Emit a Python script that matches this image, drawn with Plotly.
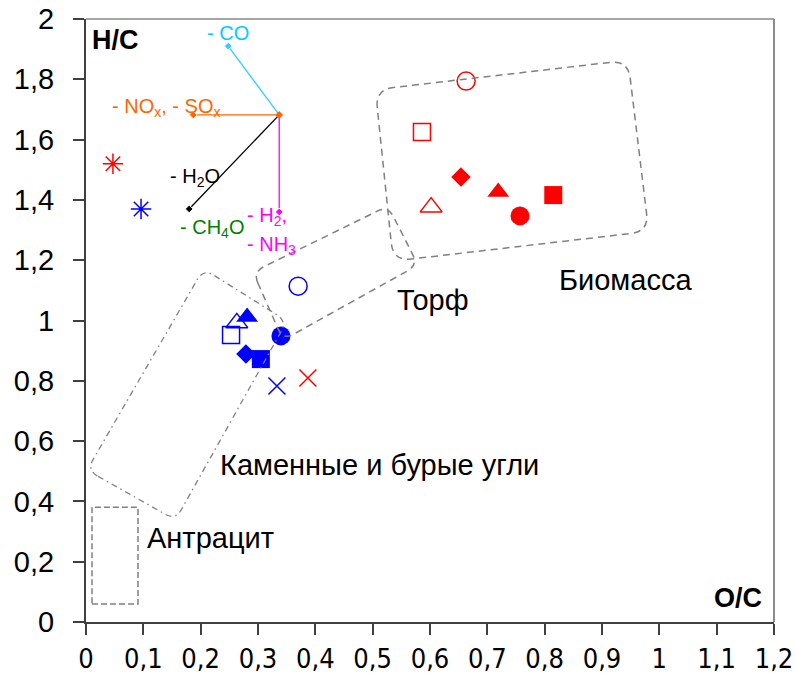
import numpy as np
import plotly.graph_objects as go

# ---- sample points: O/C and H/C atomic ratios ----
symbols = ["circle-open", "square-open", "diamond", "triangle-up", "square",
           "triangle-up-open", "circle", "asterisk-open", "x-thin-open"]
red_oc = [0.663, 0.586, 0.654, 0.719, 0.815, 0.602, 0.757, 0.047, 0.387]
red_hc = [1.794, 1.625, 1.476, 1.426, 1.416, 1.376, 1.347, 1.520, 0.809]
blue_oc = [0.370, 0.253, 0.279, 0.281, 0.305, 0.263, 0.340, 0.096, 0.333]
blue_hc = [1.114, 0.952, 0.889, 1.012, 0.872, 0.992, 0.949, 1.370, 0.783]

# ---- reaction vectors from a common origin ----
vec_origin = (0.337, 1.682)
vec_end_oc = [0.248, 0.187, 0.180, 0.337]
vec_end_hc = [1.910, 1.682, 1.370, 1.360]

# vector labels: text, O/C, H/C of the label's left edge
vec_labels = ["- CO", "- NO<sub>x</sub>, - SO<sub>x</sub>", "- H<sub>2</sub>O",
              "- CH<sub>4</sub>O", "- H<sub>2</sub>,", "- NH<sub>3</sub>"]
vec_label_oc = [0.2076, 0.042, 0.143, 0.160, 0.277, 0.277]
vec_label_hc = [1.953, 1.706, 1.474, 1.305, 1.345, 1.248]

# ---- fuel regions (corner points, O/C and H/C) ----
biomass_oc = [0.5048, 0.9454, 0.9815, 0.5357]
biomass_hc = [1.766, 1.863, 1.2955, 1.197]
peat_oc = [0.2913, 0.5268, 0.5791, 0.3436]
peat_hc = [1.161, 1.380, 1.184, 0.935]
coal_oc = [0.0017, 0.205, 0.3506, 0.1561]
coal_hc = [0.504, 1.1715, 0.998, 0.338]
anthracite_oc = [0.0105, 0.0907]
anthracite_hc = [0.0597, 0.381]

region_names = ["Биомасса", "Торф", "Каменные и бурые угли", "Антрацит"]
region_label_oc = [0.8215, 0.539, 0.230, 0.103]
region_label_hc = [1.134, 1.068, 0.521, 0.279]

x_ticks = [0, 0.1, 0.2, 0.3, 0.4, 0.5, 0.6, 0.7, 0.8, 0.9, 1.0, 1.1, 1.2]
x_ticktext = ["0", "0,1", "0,2", "0,3", "0,4", "0,5", "0,6", "0,7", "0,8",
              "0,9", "1", "1,1", "1,2"]
y_ticks = [0, 0.2, 0.4, 0.6, 0.8, 1.0, 1.2, 1.4, 1.6, 1.8, 2.0]
y_ticktext = ["0", "0,2", "0,4", "0,6", "0,8", "1", "1,2", "1,4", "1,6",
              "1,8", "2"]

# ---- layout geometry and styles ----
W, H = 796, 675
M_L, M_R, M_T, M_B = 86, 22, 19, 53
X_RANGE = (0.0, 1.2)
Y_RANGE = (0.0, 2.0)
PLOT_W = W - M_L - M_R
PLOT_H = H - M_T - M_B
FONT = "Liberation Sans, Arial, sans-serif"

marker_sizes = {"circle-open": 18, "square-open": 17, "diamond": 15,
                "triangle-up": 19, "square": 18, "triangle-up-open": 19,
                "circle": 19, "asterisk-open": 17, "x-thin-open": 17}
vec_colors = ["#33CCFF", "#FF6600", "#000000", "#FF00FF"]
label_colors = ["#00CCFF", "#FF6600", "#000000", "#008000", "#FF00FF", "#FF00FF"]
GREY = "#808080"


def rounded_path(xs, ys, r_px):
    """Closed outline through the given corners with rounded corners (radius in px)."""
    sx = PLOT_W / (X_RANGE[1] - X_RANGE[0])
    sy = PLOT_H / (Y_RANGE[1] - Y_RANGE[0])
    P = np.column_stack([np.asarray(xs) * sx, np.asarray(ys) * sy])
    n = len(P)

    def fmt(pt):
        return f"{pt[0] / sx:.5f},{pt[1] / sy:.5f}"

    path = ""
    for i in range(n):
        c, p, q = P[i], P[i - 1], P[(i + 1) % n]
        a = c + (p - c) / np.linalg.norm(p - c) * r_px
        b = c + (q - c) / np.linalg.norm(q - c) * r_px
        path += ("M " if i == 0 else " L ") + fmt(a)
        path += " Q " + fmt(c) + " " + fmt(b)
    return path + " Z"


fig = go.Figure()

# reaction vectors
for ex, ey, col in zip(vec_end_oc, vec_end_hc, vec_colors):
    fig.add_trace(go.Scatter(
        x=[vec_origin[0], ex], y=[vec_origin[1], ey], mode="lines+markers",
        line=dict(color=col, width=1.3),
        marker=dict(symbol="diamond", size=[0, 6], color=col, opacity=1),
        hoverinfo="skip", showlegend=False))
fig.add_trace(go.Scatter(
    x=[vec_origin[0]], y=[vec_origin[1]], mode="markers",
    marker=dict(symbol="diamond", size=6, color="#FF6600", opacity=1),
    hoverinfo="skip", showlegend=False))


def sample_trace(xs, ys, color):
    sizes = [marker_sizes[s] for s in symbols]
    widths = [1.5 if ("open" in s) else 0 for s in symbols]
    return go.Scatter(
        x=xs, y=ys, mode="markers", showlegend=False,
        marker=dict(symbol=symbols, size=sizes, color=color, opacity=1,
                    line=dict(color=color, width=widths)))


fig.add_trace(sample_trace(red_oc, red_hc, "#FF0000"))
fig.add_trace(sample_trace(blue_oc, blue_hc, "#0000FF"))

shapes = [
    dict(type="path", path=rounded_path(biomass_oc, biomass_hc, 18),
         xref="x", yref="y", layer="above",
         line=dict(color=GREY, width=1.5, dash="7px,5px")),
    dict(type="path", path=rounded_path(peat_oc, peat_hc, 12),
         xref="x", yref="y", layer="above",
         line=dict(color=GREY, width=1.5, dash="7px,5px")),
    dict(type="path", path=rounded_path(coal_oc, coal_hc, 12),
         xref="x", yref="y", layer="above",
         line=dict(color=GREY, width=1.3, dash="6px,4px,1.5px,4px")),
    dict(type="rect", x0=anthracite_oc[0], x1=anthracite_oc[1],
         y0=anthracite_hc[0], y1=anthracite_hc[1], xref="x", yref="y",
         layer="above", line=dict(color=GREY, width=1.5, dash="6px,3px")),
    # light frame on the top and right of the plot area
    dict(type="line", xref="paper", yref="paper", x0=0, x1=1, y0=1, y1=1,
         line=dict(color="#A6A6A6", width=2), layer="below"),
    dict(type="line", xref="paper", yref="paper", x0=1, x1=1, y0=0, y1=1,
         line=dict(color="#8C8C8C", width=2), layer="below"),
]

annotations = []
for txt, ax_, ay_, col in zip(vec_labels, vec_label_oc, vec_label_hc, label_colors):
    annotations.append(dict(x=ax_, y=ay_, xref="x", yref="y", text=txt,
                            showarrow=False, xanchor="left", yanchor="middle",
                            font=dict(family=FONT, size=20, color=col)))
for txt, ax_, ay_ in zip(region_names, region_label_oc, region_label_hc):
    annotations.append(dict(x=ax_, y=ay_, xref="x", yref="y", text=txt,
                            showarrow=False, xanchor="left", yanchor="middle",
                            font=dict(family=FONT, size=29, color="#000000")))
annotations.append(dict(x=0.006, y=0.993, xref="paper", yref="paper",
                        text="<b>H/C</b>", showarrow=False, xanchor="left",
                        yanchor="top", font=dict(family=FONT, size=27, color="#000000")))
annotations.append(dict(x=0.985, y=0.012, xref="paper", yref="paper",
                        text="<b>O/C</b>", showarrow=False, xanchor="right",
                        yanchor="bottom", font=dict(family=FONT, size=27, color="#000000")))

fig.update_layout(
    width=W, height=H,
    margin=dict(l=M_L, r=M_R, t=M_T, b=M_B),
    paper_bgcolor="white", plot_bgcolor="white",
    shapes=shapes, annotations=annotations,
    xaxis=dict(range=list(X_RANGE), tickvals=x_ticks, ticktext=x_ticktext,
               automargin=False,
               showgrid=False, zeroline=False, showline=True,
               linecolor="#404040", linewidth=2, ticks="outside", ticklen=11,
               tickwidth=1.5, tickcolor="#404040", ticklabelstandoff=1,
               tickfont=dict(family="DejaVu Sans Condensed, Liberation Sans, Arial, sans-serif",
                             size=27, color="#000000")),
    yaxis=dict(range=list(Y_RANGE), tickvals=y_ticks, ticktext=y_ticktext,
               automargin=False,
               showgrid=False, zeroline=False, showline=True,
               linecolor="#404040", linewidth=2, ticks="outside", ticklen=11,
               tickwidth=1.5, tickcolor="#404040", ticklabelstandoff=13,
               tickfont=dict(family=FONT, size=29, color="#000000")),
)

fig.write_html("out.html")
